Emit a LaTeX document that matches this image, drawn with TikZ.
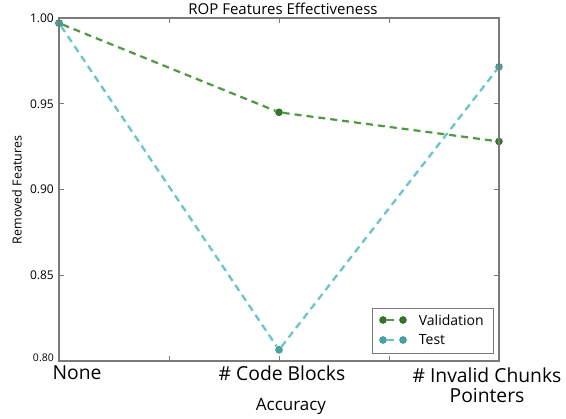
\documentclass[tikz,border=0pt]{standalone}
\usepackage{fontspec}
\setmainfont{Open Sans}
\usetikzlibrary{positioning}

\definecolor{valgreen}{HTML}{2E7A22}
\definecolor{valline}{HTML}{4A9E3A}
\definecolor{testcyan}{HTML}{3FA6A6}
\definecolor{testline}{HTML}{5CCACA}
\definecolor{framegray}{HTML}{7A7A7A}

\tikzset{
  frame/.style={framegray, line width=1.4pt},
  tickmark/.style={framegray, line width=0.7pt},
  valcurve/.style={valline, line width=2.2pt, dash pattern=on 7pt off 5pt},
  testcurve/.style={testline, line width=2.2pt, dash pattern=on 7pt off 5pt},
  valdot/.style={circle, fill=valgreen, draw=valgreen!80!black, inner sep=0pt, minimum size=7pt},
  testdot/.style={circle, fill=testcyan, draw=testcyan!80!black, inner sep=0pt, minimum size=7pt},
  catlab/.style={font=\fontsize{19.3}{21}\selectfont, inner sep=0pt},
}

\begin{document}
\begin{tikzpicture}[x=1pt,y=1pt]
  \useasboundingbox (0,0) rectangle (566,419);

  % plot area in data units: x 0..2, y 0.80..1.00
  \begin{scope}[shift={(59,58)}, x=220pt, y=1715pt]
    % ticks on all four sides
    \foreach \t in {0,0.5,...,2} {
      \draw [tickmark] (\t,0) -- ++(0,5pt);
      \draw [tickmark] (\t,0.2) -- ++(0,-5pt);
    }
    \foreach \v in {0,0.05,...,0.2} {
      \draw [tickmark] (0,\v) -- ++(5pt,0);
      \draw [tickmark] (2,\v) -- ++(-5pt,0);
    }

    % y tick labels
    \foreach \v/\lab in {0.05/0.85, 0.1/0.90, 0.15/0.95, 0.2/1.00} {
      \node [left=4pt, font=\fontsize{12}{14}\selectfont, inner sep=1pt] (yl\lab) at (0,\v) {\lab};
    }
    \node [left=4pt, font=\fontsize{10.5}{12}\selectfont, inner sep=1pt, yshift=3pt] (yl080) at (0,0) {0.80};

    % data points
    \node [valdot] (v0) at (0,0.197) {};
    \node [valdot] (v1) at (1,0.145) {};
    \node [valdot] (v2) at (2,0.128) {};
    \node [testdot] (t0) at (0,0.197) {};
    \node [testdot] (t1) at (1,0.0065) {};
    \node [testdot] (t2) at (2,0.1715) {};

    % curves
    \draw [valcurve] (v0) -- (v1) -- (v2);
    \draw [testcurve] (t0) -- (t1) -- (t2);

    % frame
    \draw [frame] (0,0) rectangle (2,0.2);
  \end{scope}

  % title and axis labels
  \node [font=\fontsize{15}{17}\selectfont] (title) at (283,410) {ROP Features Effectiveness};
  \node [font=\fontsize{17}{19}\selectfont] (xlab) at (291,13) {Accuracy};
  \node [font=\fontsize{12.5}{14}\selectfont, rotate=90] (ylab) at (17,229) {Removed Features};

  % category labels
  \node [catlab] (c0) at (77,46) {None};
  \node [catlab] (c1) at (282,46) {\# Code Blocks};
  \node [catlab, align=center] (c2) at (487,34) {\# Invalid Chunks\\[-1pt]Pointers};

  % legend
  \node [draw=framegray, line width=0.9pt, minimum width=121pt, minimum height=45pt, inner sep=0pt] (legend) at (432.5,88.5) {};
  \node [valdot] (lv0) at (383,99) {};
  \node [valdot] (lv1) at (403,99) {};
  \draw [valcurve] (lv0) -- (lv1);
  \node [testdot] (lt0) at (383,79) {};
  \node [testdot] (lt1) at (403,79) {};
  \draw [testcurve] (lt0) -- (lt1);
  \node [right=12pt of lv1, font=\fontsize{14}{16}\selectfont, inner sep=0pt] (lvtext) {Validation};
  \node [right=12pt of lt1, font=\fontsize{14}{16}\selectfont, inner sep=0pt] (lttext) {Test};
\end{tikzpicture}
\end{document}
